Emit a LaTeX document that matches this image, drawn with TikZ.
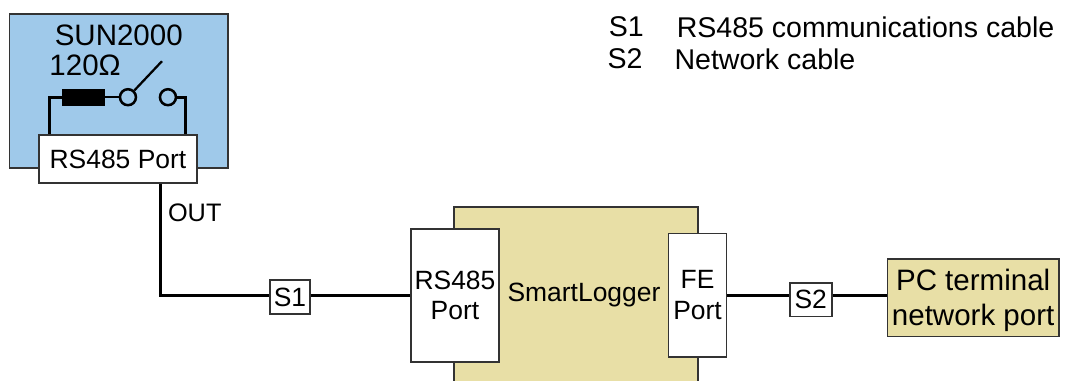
\documentclass[tikz,border=0pt]{standalone}
\usepackage{fontspec}
\setmainfont{Liberation Sans}
\usepackage{xcolor}
\usetikzlibrary{shapes,arrows,positioning}
\definecolor{unitblue}{HTML}{9FC9EA}
\definecolor{loggertan}{HTML}{E8DFA6}
\definecolor{edgegray}{HTML}{333333}

\begin{document}
\begin{tikzpicture}[node distance=2cm,
        box/.style={draw=edgegray, line width=1.1pt, rectangle, inner sep=0pt, align=center},
        wire/.style={line width=2.3pt, black},
        contact/.style={draw=black, line width=1.8pt, circle, minimum size=0.4cm, inner sep=0pt},
        small/.style={font=\fontsize{18}{20}\selectfont, inner sep=0pt},
        mid/.style={font=\fontsize{18.8}{22}\selectfont},
        big/.style={font=\fontsize{21}{25}\selectfont},
        legend/.style={font=\fontsize{20.3}{24}\selectfont, inner sep=0pt}]
        \clip (0,0) rectangle (26.725,-9.525);

        % Inverter
        \node (sun) at (2.969,-2.275) [box, fill=unitblue, minimum width=5.46cm, minimum height=3.85cm] {};
        \node (sunname) [above of=sun, yshift=-0.6cm, big, inner sep=0pt] {SUN2000};
        \node (ohm) [above of=sun, yshift=-1.35cm, xshift=-0.84cm, big, inner sep=0pt] {120Ω};
        \node (port) [below of=sun, yshift=0.3cm, xshift=-0.02cm, box, fill=white, mid, minimum width=3.95cm, minimum height=1.2cm] {RS485 Port};
        \node (res) [left of=sun, xshift=1.12cm, yshift=-0.155cm, fill=black, inner sep=0pt, minimum width=1.07cm, minimum height=0.42cm] {};
        \node (c1) [right of=res, xshift=-0.89cm, contact] {};
        \node (c2) [right of=c1, xshift=-1cm, contact] {};
        \coordinate [above of=c1, xshift=0.85cm, yshift=-1.1cm] (arm);
        \draw [wire] (res.west) -| ([xshift=0.29cm]port.north west);
        \draw [wire] (c2.east) -| ([xshift=-0.3cm]port.north east);
        \draw [wire, line width=1.6pt] (res.east) -- (c1.west);
        \draw [wire, line width=1.6pt] (c1) -- (arm);

        % SmartLogger
        \node (logger) [below of=port, yshift=-1.86cm, xshift=11.45cm, box, fill=loggertan, mid, minimum width=6.1cm, minimum height=5.33cm] {};
        \node (rs485) [left of=logger, xshift=-1.025cm, yshift=0.45cm, box, fill=white, mid, minimum width=2.19cm, minimum height=3.33cm] {RS485\\Port};
        \node (fe) [right of=logger, xshift=1.04cm, yshift=0.45cm, box, fill=white, mid, minimum width=1.45cm, minimum height=3.09cm] {FE\\Port};
        \node (name) [right of=logger, xshift=-1.8cm, yshift=0.45cm, mid, inner sep=0pt] {SmartLogger};

        % PC
        \node (pc) [right of=fe, xshift=4.89cm, yshift=-0.06cm, box, fill=loggertan, big, minimum width=4.28cm, minimum height=1.93cm] {\rule{0pt}{19pt}PC terminal\\network port};

        % Cables
        \node (s1) [left of=rs485, xshift=-2.125cm, yshift=-0.04cm, box, fill=white, mid, minimum width=1cm, minimum height=0.85cm] {S1};
        \node (s2) [right of=fe, xshift=0.83cm, yshift=-0.11cm, box, fill=white, mid, minimum width=1.05cm, minimum height=0.84cm] {S2};
        \node (out) [below of=port, yshift=0.65cm, xshift=1.92cm, small] {OUT};
        \coordinate (outtop) at ([xshift=1.06cm]port.south);
        \draw [wire] (outtop) |- (s1.west |- rs485.west);
        \draw [wire] (s1.east |- rs485.west) -- (rs485.west);
        \draw [wire] (fe.east) -- (s2.west |- fe.east);
        \draw [wire] (s2.east |- fe.east) -- (pc.west |- fe.east);

        % Legend
        \node (key1) [right of=sun, xshift=10.69cm, yshift=1.6cm, legend] {S1};
        \node (text1) [right of=key1, xshift=3.98cm, legend] {RS485 communications cable};
        \node (key2) [below of=key1, yshift=1.2cm, xshift=-0.03cm, legend] {S2};
        \node (text2) [right of=key2, xshift=1.495cm, legend] {Network cable};
    \end{tikzpicture}
\end{document}
